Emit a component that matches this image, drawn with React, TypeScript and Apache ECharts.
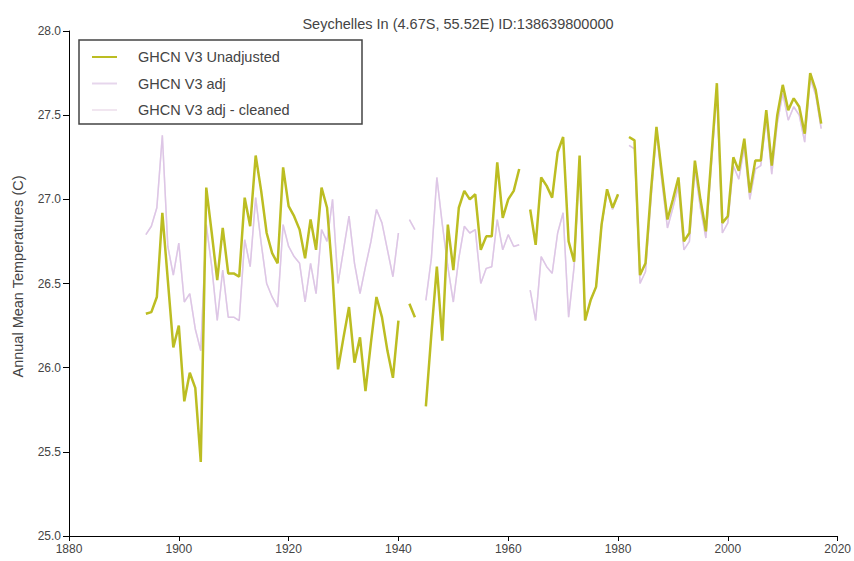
import React, { useEffect, useRef } from "react";
import * as echarts from "echarts";

const titleText = "Seychelles In (4.67S, 55.52E) ID:138639800000";
const yAxisName = "Annual Mean Temperatures (C)";
const seriesNames = ["GHCN V3 Unadjusted", "GHCN V3 adj", "GHCN V3 adj - cleaned"];

const firstYear = 1894;

// 1894 .. 2017
const unadjusted: (number | null)[] = [
  26.32, 26.33, 26.42, 26.92, 26.52, 26.12,
  26.25, 25.80, 25.97, 25.88, 25.44, 27.07, 26.80, 26.52, 26.83, 26.56,
  26.56, 26.54, 27.01, 26.84, 27.26, 27.05, 26.80, 26.68, 26.62, 27.19,
  26.96, 26.90, 26.82, 26.65, 26.88, 26.70, 27.07, 26.95, 26.55, 25.99,
  26.18, 26.36, 26.03, 26.18, 25.86, 26.15, 26.42, 26.30, 26.10, 25.94,
  26.28, null, 26.38, 26.30, null, 25.77, 26.20, 26.60, 26.16, 26.85,
  26.58, 26.95, 27.05, 27.00, 27.03, 26.70, 26.78, 26.78, 27.22, 26.89,
  27.00, 27.05, 27.18, null, 26.94, 26.73, 27.13, 27.08, 27.01, 27.28,
  27.37, 26.75, 26.63, 27.26, 26.28, 26.40, 26.48, 26.85, 27.06, 26.95,
  27.03, null, 27.37, 27.35, 26.55, 26.62, 27.05, 27.43, 27.15, 26.88,
  27.00, 27.13, 26.75, 26.80, 27.23, 27.00, 26.81, 27.25, 27.69, 26.86,
  26.90, 27.25, 27.17, 27.36, 27.04, 27.23, 27.23, 27.53, 27.20, 27.50,
  27.68, 27.53, 27.60, 27.55, 27.39, 27.75, 27.65, 27.45,
];

const adj: (number | null)[] = [
  26.79, 26.84, 26.95, 27.38, 26.72, 26.55,
  26.74, 26.39, 26.44, 26.23, 26.10, 26.85, 26.60, 26.28, 26.58, 26.30,
  26.30, 26.28, 26.76, 26.60, 27.01, 26.74, 26.50, 26.42, 26.36, 26.85,
  26.72, 26.66, 26.62, 26.39, 26.62, 26.44, 26.82, 26.75, 27.00, 26.50,
  26.70, 26.90, 26.62, 26.44, 26.60, 26.75, 26.94, 26.86, 26.70, 26.54,
  26.80, null, 26.88, 26.82, null, 26.40, 26.65, 27.13, 26.85, 26.60,
  26.39, 26.65, 26.84, 26.80, 26.82, 26.50, 26.59, 26.60, 26.88, 26.70,
  26.79, 26.72, 26.73, null, 26.46, 26.28, 26.66, 26.60, 26.56, 26.80,
  26.92, 26.30, 26.60, 27.22, 26.28, 26.40, 26.48, 26.84, 27.05, 26.94,
  27.02, null, 27.32, 27.30, 26.50, 26.57, 27.00, 27.40, 27.10, 26.83,
  26.95, 27.08, 26.70, 26.75, 27.18, 26.95, 26.77, 27.20, 27.64, 26.80,
  26.86, 27.20, 27.12, 27.31, 27.00, 27.18, 27.20, 27.48, 27.15, 27.45,
  27.63, 27.47, 27.55, 27.50, 27.34, 27.72, 27.62, 27.42,
];

const adjCleaned: (number | null)[] = [...adj];

const xTicks = { min: 1880, max: 2020, interval: 20 };
const yTicks = { min: 25, max: 28, interval: 0.5 };

const toPairs = (vals: (number | null)[]) =>
  vals.map((v, i) => [firstYear + i, v]);

const FONT = "Liberation Sans, Arial, sans-serif";

export default function App() {
  const ref = useRef<HTMLDivElement>(null);
  useEffect(() => {
    if (!ref.current) return;
    document.body.style.margin = "0";
    const chart = echarts.init(ref.current, undefined, { renderer: "svg" });
    chart.setOption({
      animation: false,
      backgroundColor: "#ffffff",
      textStyle: { fontFamily: FONT },
      title: {
        text: titleText,
        left: 453,
        textAlign: "center",
        top: 11,
        textStyle: { fontSize: 14.5, fontWeight: "normal", color: "#444", fontFamily: FONT },
      },
      grid: { left: 69, right: 16, top: 31, bottom: 25, containLabel: false },
      legend: {
        data: seriesNames,
        orient: "vertical",
        left: 87,
        top: 44,
        icon: "rect",
        itemWidth: 25,
        itemHeight: 2,
        itemGap: 10.5,
        textStyle: {
          fontSize: 14.5,
          color: "#444",
          fontFamily: FONT,
          padding: [0, 0, 0, 16],
          lineHeight: 16,
        },
      },
      graphic: [
        {
          type: "rect",
          shape: { x: 79, y: 40, width: 283, height: 84 },
          style: { fill: "none", stroke: "#444", lineWidth: 1.5 },
          z: 10,
        },
      ],
      xAxis: {
        type: "value",
        min: xTicks.min,
        max: xTicks.max,
        interval: xTicks.interval,
        axisLine: { lineStyle: { color: "#000", width: 1 } },
        axisTick: { show: true, length: 5, lineStyle: { color: "#000" } },
        axisLabel: {
          fontSize: 12,
          color: "#444",
          margin: 7,
          fontFamily: FONT,
          formatter: (v: number) => String(v),
        },
        splitLine: { show: false },
      },
      yAxis: {
        type: "value",
        min: yTicks.min,
        max: yTicks.max,
        interval: yTicks.interval,
        name: yAxisName,
        nameLocation: "middle",
        nameGap: 43.5,
        nameTextStyle: {
          fontSize: 14.5,
          color: "#444",
          fontFamily: FONT,
          padding: [0, 0, 0, 14],
        },
        axisLine: { show: true, lineStyle: { color: "#000", width: 1 } },
        axisTick: { show: true, length: 6, lineStyle: { color: "#000" } },
        axisLabel: {
          fontSize: 12,
          color: "#444",
          margin: 8,
          fontFamily: FONT,
          formatter: (v: number) => v.toFixed(1),
        },
        splitLine: { show: false },
      },
      series: [
        {
          name: seriesNames[0],
          type: "line",
          data: toPairs(unadjusted),
          symbol: "none",
          connectNulls: false,
          lineStyle: { color: "#bcbd22", width: 2.5 },
          itemStyle: { color: "#bcbd22" },
          z: 5,
        },
        {
          name: seriesNames[1],
          type: "line",
          data: toPairs(adj),
          symbol: "none",
          connectNulls: false,
          lineStyle: { color: "#ddc6e6", width: 1.5 },
          itemStyle: { color: "#e6d6ec" },
          z: 4,
        },
        {
          name: seriesNames[2],
          type: "line",
          data: toPairs(adjCleaned),
          symbol: "none",
          connectNulls: false,
          lineStyle: { color: "#f1e6f0", width: 1.5 },
          itemStyle: { color: "#f1e6f0" },
          z: 3,
        },
      ],
    });
    return () => chart.dispose();
  }, []);
  return <div ref={ref} style={{ width: 854, height: 561 }} />;
}
